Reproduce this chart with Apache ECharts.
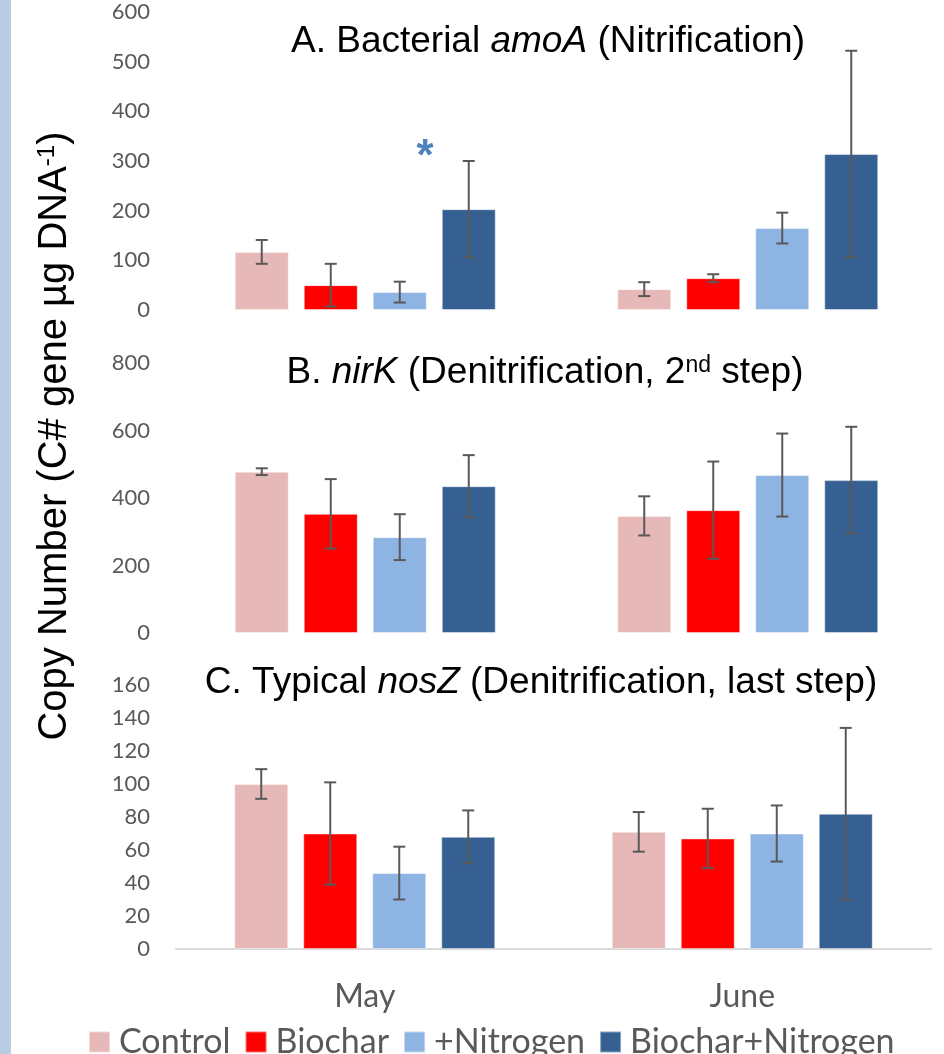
<!DOCTYPE html>
<html>
<head>
<meta charset="utf-8">
<script src="https://cdn.jsdelivr.net/npm/echarts@6/dist/echarts.min.js"></script>
<style>
  html, body { margin: 0; padding: 0; background: #fff; }
  #chart { width: 944px; height: 1054px; }
</style>
</head>
<body>
<div id="chart"></div>
<script>
// data
var months = ['May', 'June'];
var treatments = ['Control', 'Biochar', '+Nitrogen', 'Biochar+Nitrogen'];

// A. bacterial amoA, per treatment [May, June]
var amoaMean = [[117, 42], [50, 64], [36, 165], [203, 314]];
var amoaErr = [[24, 14], [43, 8], [21, 31], [97, 208]];
// B. nirK
var nirkMean = [[478, 347], [353, 364], [284, 468], [435, 453]];
var nirkErr = [[10, 58], [103, 144], [68, 123], [92, 158]];
// C. typical nosZ
var noszMean = [[100, 71], [70, 67], [46, 70], [68, 82]];
var noszErr = [[9, 12], [31, 18], [16, 17], [16, 52]];

var colors = ['#e6b8b7', '#ff0000', '#8eb4e3', '#376092'];
var BAR_W = 54, BAR_GAP = 15;
var LABEL_FONT = 'Lato';
var TITLE_FONT = '"Liberation Sans", Arial, sans-serif';

function errRender(params, api) {
  var cat = api.value(0), s = api.value(1);
  var lo = api.coord([cat, api.value(2)]);
  var hi = api.coord([cat, api.value(3)]);
  var x = lo[0] + (s - 1.5) * (BAR_W + BAR_GAP);
  var st = { stroke: '#595959', lineWidth: 2 };
  return {
    type: 'group',
    children: [
      { type: 'line', shape: { x1: x, y1: lo[1], x2: x, y2: hi[1] }, style: st },
      { type: 'line', shape: { x1: x - 6, y1: hi[1], x2: x + 6, y2: hi[1] }, style: st },
      { type: 'line', shape: { x1: x - 6, y1: lo[1], x2: x + 6, y2: lo[1] }, style: st }
    ]
  };
}

function errData(mean, err) {
  var out = [];
  for (var s = 0; s < mean.length; s++) {
    for (var i = 0; i < months.length; i++) {
      out.push([i, s, mean[s][i] - err[s][i], mean[s][i] + err[s][i]]);
    }
  }
  return out;
}

var panels = [
  { mean: amoaMean, err: amoaErr, max: 600, step: 100 },
  { mean: nirkMean, err: nirkErr, max: 800, step: 200 },
  { mean: noszMean, err: noszErr, max: 160, step: 20 }
];

var grids = [
  { left: 174, right: 5, top: 12, height: 298, outerBoundsMode: 'none' },
  { left: 174, right: 5, top: 363, height: 270, outerBoundsMode: 'none' },
  { left: 176, right: 13, top: 685, height: 264, outerBoundsMode: 'none' }
];

var xAxes = [], yAxes = [], series = [];
panels.forEach(function (p, g) {
  var last = g === 2;
  xAxes.push({
    type: 'category', gridIndex: g, data: months,
    axisLine: { show: last, lineStyle: { color: '#d9d9d9', width: 2 } },
    axisTick: { show: false },
    axisLabel: { show: last, color: '#595959', fontSize: 32, fontFamily: LABEL_FONT, margin: 32 }
  });
  yAxes.push({
    type: 'value', gridIndex: g, min: 0, max: p.max, interval: p.step,
    axisLine: { show: false }, axisTick: { show: false }, splitLine: { show: false },
    axisLabel: { color: '#595959', fontSize: 22, fontFamily: LABEL_FONT, margin: g === 2 ? 26 : 24 }
  });
  treatments.forEach(function (name, s) {
    series.push({
      type: 'bar', name: name, xAxisIndex: g, yAxisIndex: g,
      data: p.mean[s], barWidth: BAR_W, barGap: (BAR_GAP / BAR_W * 100) + '%',
      itemStyle: { color: colors[s], borderColor: 'rgba(255,255,255,0.45)', borderWidth: 1 }
    });
  });
  series.push({
    type: 'custom', xAxisIndex: g, yAxisIndex: g,
    renderItem: errRender, data: errData(p.mean, p.err),
    encode: { x: 0, y: [2, 3] }, z: 5
  });
});

var titleRich = {
  n: { fontSize: 37, fontFamily: TITLE_FONT, color: '#333333' },
  i: { fontSize: 37, fontFamily: TITLE_FONT, color: '#333333', fontStyle: 'italic' },
  s: { fontSize: 23, fontFamily: TITLE_FONT, color: '#333333', verticalAlign: 'top' }
};

function titleText(x, y, text) {
  return {
    type: 'text', x: x, y: y,
    style: { text: text, rich: titleRich, align: 'center', verticalAlign: 'middle' }
  };
}

var chart = echarts.init(document.getElementById('chart'));
chart.setOption({
  animation: false,
  backgroundColor: '#ffffff',
  grid: grids,
  xAxis: xAxes,
  yAxis: yAxes,
  series: series,
  legend: {
    data: treatments, left: 88, top: 1025, padding: 0,
    icon: 'rect', itemWidth: 21, itemHeight: 21, itemGap: 14,
    textStyle: { color: '#595959', fontSize: 34, lineHeight: 21, fontFamily: LABEL_FONT, padding: [0, 0, 0, 4] }
  },
  graphic: [
    { type: 'rect', shape: { x: 0, y: 0, width: 11, height: 1054 }, style: { fill: '#b8cce4' } },
    titleText(548, 42, '{n|A. Bacterial }{i|amoA}{n| (Nitrification)}'),
    titleText(545, 373, '{n|B. }{i|nirK}{n| (Denitrification, 2}{s|nd}{n| step)}'),
    titleText(541, 683, '{n|C. Typical }{i|nosZ}{n| (Denitrification, last step)}'),
    {
      type: 'text', x: 425, y: 158,
      style: { text: '*', fill: '#4f81bd', fontSize: 44, fontWeight: 'bold', fontFamily: TITLE_FONT, align: 'center', verticalAlign: 'middle' }
    },
    {
      type: 'text', x: 55, y: 436, rotation: Math.PI / 2,
      style: {
        text: '{n|Copy Number (C# gene µg DNA}{s|-1}{n|)}',
        align: 'center', verticalAlign: 'middle',
        rich: {
          n: { fontSize: 40, fontFamily: TITLE_FONT, color: '#222222' },
          s: { fontSize: 24, fontFamily: TITLE_FONT, color: '#222222', verticalAlign: 'top' }
        }
      }
    }
  ]
});
</script>
</body>
</html>
